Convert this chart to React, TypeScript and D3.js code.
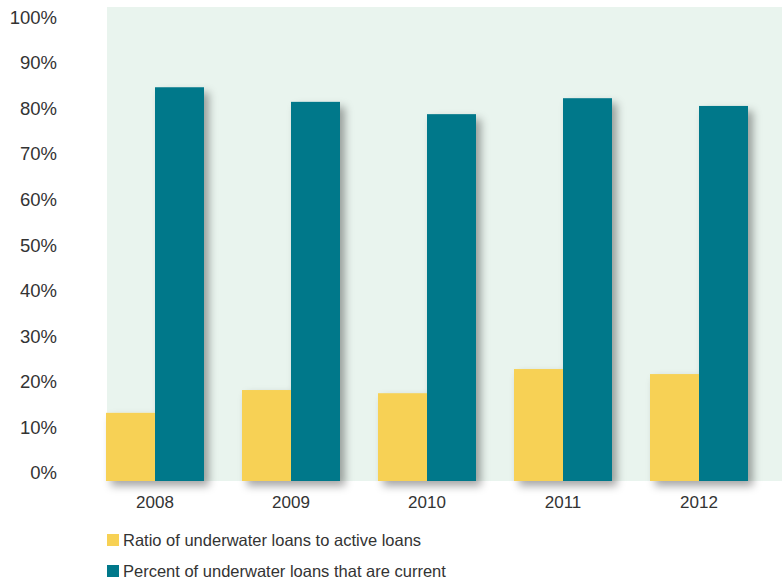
import React from "react";
import * as d3 from "d3";

const years = ["2008", "2009", "2010", "2011", "2012"];
const ratioUnderwater = [13.2, 18.2, 17.5, 22.8, 21.7];
const percentCurrent = [84.6, 81.4, 78.7, 82.2, 80.5];
const yTicks = [0, 10, 20, 30, 40, 50, 60, 70, 80, 90, 100];
const seriesNames = [
  "Ratio of underwater loans to active loans",
  "Percent of underwater loans that are current",
];
const colors = ["#F7D154", "#00788A"];

export default function App() {
  const W = 782, H = 582;
  const plot = { left: 107, right: 782, top: 7, bottom: 481 };
  const y = d3.scaleLinear().domain([-1.75, 102.2]).range([plot.bottom, plot.top]);
  const x = d3.scaleBand().domain(years).range([106, 106 + 5 * 136]).padding(0);
  const x1 = d3.scaleBand().domain(["a", "b"]).range([0, 98]).padding(0);
  const font = "'Liberation Sans', Arial, sans-serif";
  return (
    <svg width={W} height={H} style={{ position: "absolute", left: 0, top: 0 }}>
      <defs>
        <filter id="sh" x="-20%" y="-20%" width="160%" height="160%">
          <feDropShadow dx="5" dy="5" stdDeviation="4" floodColor="#000" floodOpacity="0.35" />
        </filter>
      </defs>
      <rect x={plot.left} y={plot.top} width={plot.right - plot.left} height={plot.bottom - plot.top} fill="#E9F4EE" />
      {years.map((yr, i) => {
        const gx = x(yr)!;
        return (
          <g key={yr} filter="url(#sh)">
            <rect x={gx + x1("a")!} y={y(ratioUnderwater[i])} width={x1.bandwidth()} height={plot.bottom - y(ratioUnderwater[i])} fill={colors[0]} />
            <rect x={gx + x1("b")!} y={y(percentCurrent[i])} width={x1.bandwidth()} height={plot.bottom - y(percentCurrent[i])} fill={colors[1]} />
          </g>
        );
      })}
      {years.map((yr) => (
        <text key={yr} x={x(yr)! + x1("b")!} y={508} textAnchor="middle" fontFamily={font} fontSize={17} fill="#333">
          {yr}
        </text>
      ))}
      {yTicks.map((t) => (
        <text key={t} x={57} y={y(t)} dy="0.35em" textAnchor="end" fontFamily={font} fontSize={18.5} fill="#333">
          {t}%
        </text>
      ))}
      {seriesNames.map((name, i) => (
        <g key={name} transform={`translate(107, ${534 + i * 31})`}>
          <rect x={0} y={0} width={12} height={12} fill={colors[i]} />
          <text x={16} y={6} dy="0.35em" fontFamily={font} fontSize={16.5} fill="#333">
            {name}
          </text>
        </g>
      ))}
    </svg>
  );
}
